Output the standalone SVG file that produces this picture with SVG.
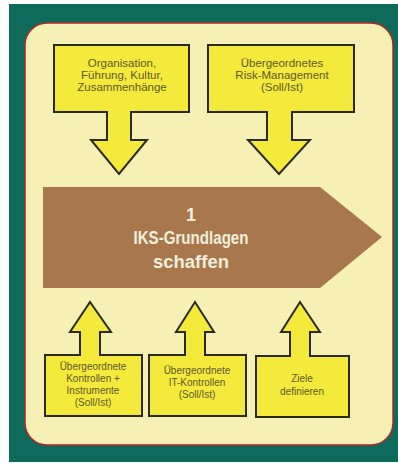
<svg xmlns="http://www.w3.org/2000/svg" width="398" height="463" viewBox="0 0 398 463">
<style>
.box{fill:#f3ea3c;stroke:#2b2a1a;stroke-width:2;stroke-linejoin:miter}
.t{font-family:"Liberation Sans",Arial,sans-serif;fill:#5e5a2a;text-anchor:middle}
.t1{font-size:11.5px}
.t2{font-size:10px}
.main{font-family:"Liberation Sans",Arial,sans-serif;font-weight:bold;font-size:18px;fill:#f4eedd;text-anchor:middle}
</style>
<rect x="0" y="0" width="398" height="463" fill="#ffffff"/>
<rect x="9" y="4" width="389" height="458" fill="#0e6a5a"/>
<rect x="25" y="23" width="368" height="422" rx="22" ry="22" fill="#f6f0b4" stroke="#b3262a" stroke-width="1.5"/>
<g id="main">
<polygon points="43,187 320,187 382,237 320,288 43,288" fill="#a8784c"/>
<text class="main" x="191" y="221">1</text>
<text class="main" x="191" y="244" textLength="115" lengthAdjust="spacingAndGlyphs">IKS-Grundlagen</text>
<text class="main" x="191" y="268" textLength="76" lengthAdjust="spacingAndGlyphs">schaffen</text>
</g>
<g id="n1">
<path class="box" d="M54,45 H189 V112 H131 V140 H147 L119,174 L91,140 H107 V112 H54 Z"/>
<text class="t t1" x="122" y="67">Organisation,</text>
<text class="t t1" x="122" y="79">Führung, Kultur,</text>
<text class="t t1" x="122" y="91">Zusammenhänge</text>
</g>
<g id="n2">
<path class="box" d="M208,45 H354 V112 H292 V140 H310 L279,174 L248,140 H267 V112 H208 Z"/>
<text class="t t1" x="282" y="67">Übergeordnetes</text>
<text class="t t1" x="282" y="79">Risk-Management</text>
<text class="t t1" x="282" y="91">(Soll/Ist)</text>
</g>
<g id="n3">
<path class="box" d="M45,355 H80 V332 H70 L90,302 L111,332 H100 V355 H142 V416 H45 Z"/>
<text class="t t2" x="93" y="370">Übergeordnete</text>
<text class="t t2" x="93" y="382">Kontrollen +</text>
<text class="t t2" x="93" y="394">Instrumente</text>
<text class="t t2" x="93" y="406">(Soll/Ist)</text>
</g>
<g id="n4">
<path class="box" d="M149,355 H185 V332 H176 L195,302 L214,332 H205 V355 H246 V416 H149 Z"/>
<text class="t t2" x="197" y="374">Übergeordnete</text>
<text class="t t2" x="197" y="386">IT-Kontrollen</text>
<text class="t t2" x="197" y="398">(Soll/Ist)</text>
</g>
<g id="n5">
<path class="box" d="M256,356 H290 V332 H281 L300,302 L320,332 H310 V356 H349 V417 H256 Z"/>
<text class="t t2" x="302" y="382">Ziele</text>
<text class="t t2" x="302" y="395">definieren</text>
</g>
<g id="connectors"></g>
</svg>
